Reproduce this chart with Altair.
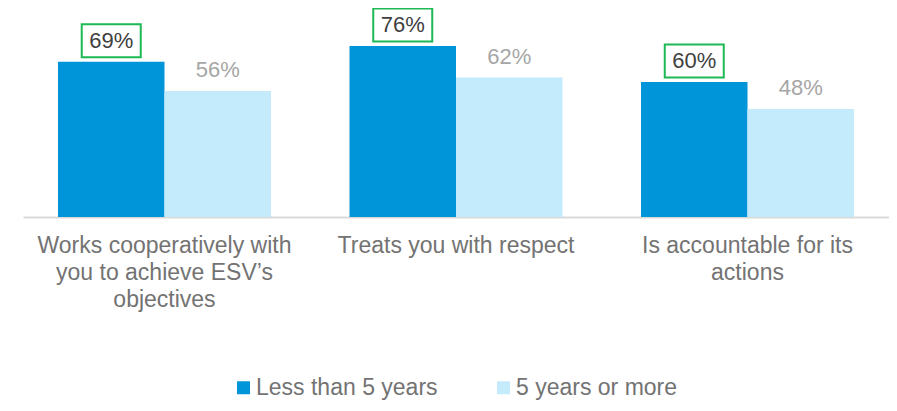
import altair as alt
import pandas as pd

categories = [
    "Works cooperatively with\nyou to achieve ESV\u2019s\nobjectives",
    "Treats you with respect",
    "Is accountable for its\nactions",
]
series = ["Less than 5 years", "5 years or more"]
less_than_5 = [0.69, 0.76, 0.60]
five_or_more = [0.56, 0.62, 0.48]

rows = []
for i, c in enumerate(categories):
    rows.append({"cat": c, "series": series[0], "value": less_than_5[i], "label": f"{round(less_than_5[i]*100)}%"})
    rows.append({"cat": c, "series": series[1], "value": five_or_more[i], "label": f"{round(five_or_more[i]*100)}%"})
df = pd.DataFrame(rows)

colors = ["#0095D8", "#C4EBFB"]
gray = "#737373"

x = alt.X("cat:N", sort=categories, title=None,
          scale=alt.Scale(paddingInner=0.2693, paddingOuter=0.12),
          axis=alt.Axis(labelAngle=0, labelFontSize=23, labelColor=gray,
                        labelFont="Liberation Sans", labelLineHeight=27,
                        labelPadding=17, labelExpr="split(datum.label, '\\n')",
                        ticks=False, domainColor="#D9D9D9", domainWidth=2,
                        labelLimit=400))
xo = alt.XOffset("series:N", sort=series, scale=alt.Scale(paddingInner=0))
y = alt.Y("value:Q", scale=alt.Scale(domain=[0, 0.8]), axis=None)

base = alt.Chart(df)

bars = base.mark_bar().encode(
    x=x, xOffset=xo, y=y,
    color=alt.Color("series:N", sort=series,
                    scale=alt.Scale(domain=series, range=colors),
                    legend=alt.Legend(title=None, orient="none", direction="horizontal",
                                      legendX=209, legendY=339,
                                      symbolType="square", symbolSize=169,
                                      symbolStrokeWidth=0, labelFontSize=23,
                                      labelColor=gray, labelFont="Liberation Sans",
                                      labelOffset=1, columnPadding=54,
                                      labelLimit=400)),
)

text = base.mark_text(baseline="middle", align="center", dy=-21, fontSize=22,
                      font="Liberation Sans").encode(
    x=x, xOffset=xo, y=y, text="label:N",
    color=alt.Color("series:N", sort=series,
                    scale=alt.Scale(domain=series, range=["#404040", "#A6A6A6"]),
                    legend=None),
)

boxes = base.transform_filter(alt.datum.series == series[0]).mark_point(
    shape="M-1,-0.56L1,-0.56L1,0.56L-1,0.56Z", size=3481, filled=False,
    stroke="#1DB954", strokeWidth=2, opacity=1, yOffset=-21,
).encode(x=x, xOffset=xo, y=y)

chart = alt.layer(bars, text, boxes).resolve_scale(color="independent").properties(
    width=866, height=180,
    autosize=alt.AutoSizeParams(type="none"),
    padding={"left": 15, "top": 29, "right": 0, "bottom": 186},
).configure_view(stroke=None)

chart.save("out.html", embed_options={"renderer": "svg", "actions": False})
